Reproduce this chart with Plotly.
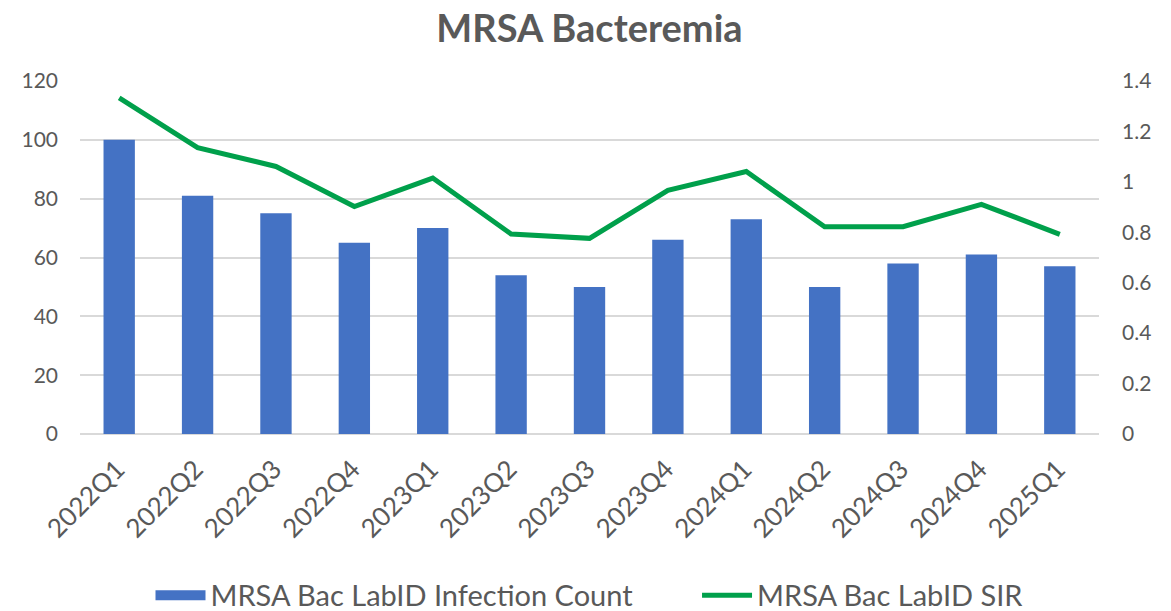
import plotly.graph_objects as go

categories = ["2022Q1", "2022Q2", "2022Q3", "2022Q4", "2023Q1", "2023Q2", "2023Q3",
              "2023Q4", "2024Q1", "2024Q2", "2024Q3", "2024Q4", "2025Q1"]
infection_count = [100, 81, 75, 65, 70, 54, 50, 66, 73, 50, 58, 61, 57]
sir = [1.333, 1.136, 1.061, 0.902, 1.015, 0.793, 0.776, 0.966, 1.041, 0.822, 0.822, 0.911, 0.792]

FONT = "Lato"
GREY = "#595959"
BLUE = "#4472C4"
GREEN = "#00A04B"
NB = "\u00a0"

fig = go.Figure()
fig.add_trace(go.Bar(
    x=categories, y=infection_count, name="MRSA Bac LabID Infection Count",
    marker=dict(color=BLUE, line=dict(width=0)), yaxis="y", showlegend=False,
    legendgroup="count",
))
# legend swatch for the bars (wide rectangle like the original)
fig.add_trace(go.Scatter(
    x=[None], y=[None], name="MRSA Bac LabID Infection Count" + NB * 8, mode="lines",
    line=dict(color=BLUE, width=18), yaxis="y", legendgroup="count", hoverinfo="skip",
))
fig.add_trace(go.Scatter(
    x=categories, y=sir, name="MRSA Bac LabID SIR", mode="lines",
    line=dict(color=GREEN, width=5), yaxis="y2",
))

# page body has an 8px margin, so the figure is sized/offset to fill 1171x611
fig.update_layout(
    width=1163, height=603,
    paper_bgcolor="white", plot_bgcolor="white",
    margin=dict(l=72, r=72, t=73, b=177, autoexpand=False),
    title=dict(text="<b>MRSA Bacteremia</b>", x=0.5, xanchor="center", y=0.965, yanchor="middle",
               font=dict(family=FONT, size=38, color=GREY)),
    font=dict(family=FONT, color=GREY),
    bargap=0.6,
    xaxis=dict(type="category", tickangle=-45, tickfont=dict(size=26, color=GREY),
               showgrid=False, showline=False, ticks="", automargin=False,
               ticklabelshift=-2, ticklabelstandoff=14),
    yaxis=dict(range=[0, 120], dtick=20, tickfont=dict(size=21, color=GREY),
               showgrid=True, gridcolor="#D9D9D9", gridwidth=1.5,
               zeroline=True, zerolinecolor="#D9D9D9", zerolinewidth=1.5,
               ticklabelstandoff=21, showline=False, automargin=False),
    yaxis2=dict(range=[0, 1.4], dtick=0.2, overlaying="y", side="right",
                tickfont=dict(size=21, color=GREY), showgrid=False, zeroline=False,
                ticklabelstandoff=22, showline=False, tickformat="~g", automargin=False),
    legend=dict(orientation="h", xref="container", x=0.5, xanchor="center",
                yref="container", y=0.026, yanchor="middle",
                font=dict(size=29, color=GREY), itemwidth=50, tracegroupgap=0),
    showlegend=True,
)

fig.write_html("out.html")
